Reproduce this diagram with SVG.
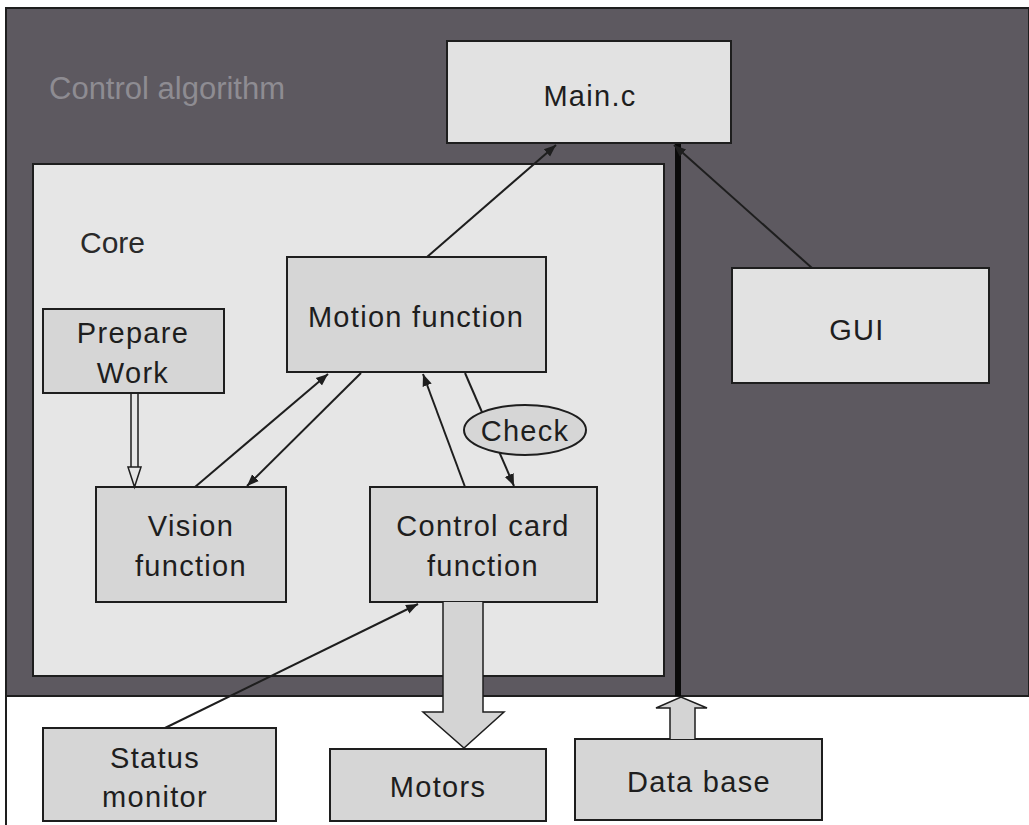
<svg xmlns="http://www.w3.org/2000/svg" width="1029" height="825" viewBox="0 0 1029 825">
<defs>
<style>
.t{font-family:"Liberation Sans",Arial,sans-serif;font-size:29px;fill:#1e1e1e;text-anchor:middle;letter-spacing:1.3px}
.box{fill:#d6d6d6;stroke:#1e1e1e;stroke-width:2}
.lbox{fill:#e2e2e2;stroke:#1e1e1e;stroke-width:2}
.ln{stroke:#1e1e1e;stroke-width:2;fill:none}
.hol{fill:#d4d4d4;stroke:#1e1e1e;stroke-width:1.5}
</style>
<marker id="ah" viewBox="0 0 10 10" refX="10" refY="5" markerWidth="12" markerHeight="12" markerUnits="userSpaceOnUse" orient="auto">
<path d="M0,1 L10,5 L0,9 Z" fill="#1e1e1e"/>
</marker>
</defs>
<rect x="0" y="0" width="1029" height="825" fill="#ffffff"/>
<rect x="6" y="8" width="1023" height="688" fill="#5d5960" stroke="#1e1e1e" stroke-width="2"/>
<line x1="6" y1="696" x2="6" y2="825" stroke="#1e1e1e" stroke-width="2"/>
<text x="49" y="99" style="font-family:'Liberation Sans',Arial,sans-serif;font-size:31px;fill:#8e8c92">Control algorithm</text>

<g id="core">
<rect x="33" y="164" width="631" height="512" fill="#e6e6e6" stroke="#1e1e1e" stroke-width="2"/>
<text x="80" y="253" style="font-family:'Liberation Sans',Arial,sans-serif;font-size:30px;fill:#2a2a2a">Core</text>
</g>

<g id="bus">
<rect x="675" y="143" width="6" height="553" fill="#0a0a0a"/>
</g>

<g id="main">
<rect class="lbox" x="447" y="41" width="284" height="102"/>
<text class="t" x="590" y="106">Main.c</text>
</g>
<g id="gui">
<rect class="lbox" x="732" y="268" width="257" height="115"/>
<text class="t" x="857" y="340">GUI</text>
</g>
<g id="motion">
<rect class="box" x="287" y="257" width="259" height="115"/>
<text class="t" x="416" y="327">Motion function</text>
</g>
<g id="prepare">
<rect class="box" x="43" y="309" width="181" height="84"/>
<text class="t" x="133" y="343">Prepare</text>
<text class="t" x="133" y="383">Work</text>
</g>
<g id="vision">
<rect class="box" x="96" y="487" width="190" height="115"/>
<text class="t" x="191" y="536">Vision</text>
<text class="t" x="191" y="576">function</text>
</g>
<g id="control">
<rect class="box" x="370" y="487" width="227" height="115"/>
<text class="t" x="483" y="536">Control card</text>
<text class="t" x="483" y="576">function</text>
</g>
<g id="status">
<rect class="box" x="43" y="728" width="233" height="93"/>
<text class="t" x="155" y="768">Status</text>
<text class="t" x="155" y="807">monitor</text>
</g>
<g id="motors">
<rect class="box" x="330" y="749" width="216" height="72"/>
<text class="t" x="438" y="797">Motors</text>
</g>
<g id="database">
<rect class="box" x="575" y="739" width="247" height="81"/>
<text class="t" x="699" y="792">Data base</text>
</g>

<g id="connectors">
<line class="ln" x1="427" y1="257" x2="556" y2="145" marker-end="url(#ah)"/>
<line class="ln" x1="812" y1="268" x2="674" y2="145" marker-end="url(#ah)"/>
<line class="ln" x1="195" y1="487" x2="328" y2="374" marker-end="url(#ah)"/>
<line class="ln" x1="361" y1="373" x2="247" y2="486" marker-end="url(#ah)"/>
<line class="ln" x1="465" y1="487" x2="423" y2="374" marker-end="url(#ah)"/>
<line class="ln" x1="465" y1="373" x2="514" y2="486" marker-end="url(#ah)"/>
<line class="ln" x1="165" y1="728" x2="418" y2="604" marker-end="url(#ah)"/>
<path d="M131,393 V467 M138,393 V467 M128,467 L134.5,487 L141,467 Z" fill="#e6e6e6" stroke="#1e1e1e" stroke-width="1.5"/>
<path class="hol" d="M443,602 V712 H423 L464,748 L504,712 H483 V602"/>
<path class="hol" d="M670,739 V708 H656 L681,697 L707,708 H695 V739"/>
</g>

<g id="check">
<ellipse cx="525" cy="430" rx="61" ry="25" fill="#d6d6d6" stroke="#1e1e1e" stroke-width="2"/>
<text class="t" x="525" y="441">Check</text>
</g>
</svg>
